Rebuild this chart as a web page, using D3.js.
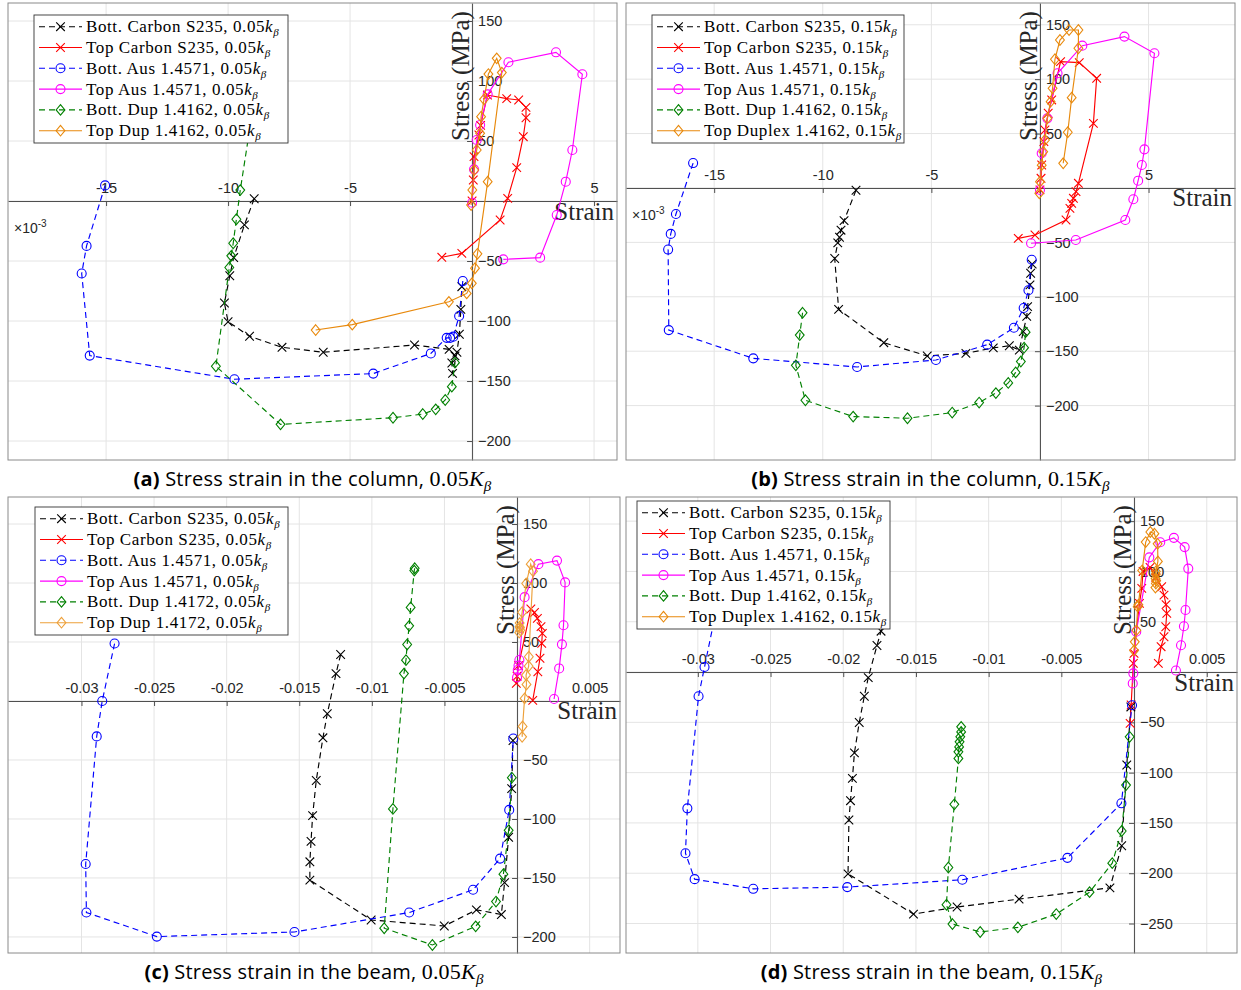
<!DOCTYPE html>
<html>
<head>
<meta charset="utf-8">
<script src="https://cdn.jsdelivr.net/npm/d3@7"></script>
<style>
  body { margin: 0; background: #fff; }
</style>
</head>
<body>
<svg id="chart" width="1241" height="990"></svg>
<script>
// strain in 1e-3, stress in MPa  [strain, stress]

// (a) column, 0.05
const aBottCarbon = [[-8.93,1.9],[-9.33,-19.9],[-9.77,-47.1],[-9.93,-62.3],[-10.15,-85],[-10.0,-100.6],[-9.12,-112.7],[-7.79,-121.9],[-6.10,-126],[-2.36,-120],[-0.94,-123.6],[-0.70,-129],[-0.83,-135],[-0.80,-143.6],[-0.62,-126],[-0.52,-111],[-0.46,-90.3],[-0.42,-71.4]];
const aTopCarbon = [[-1.24,-46.9],[-0.42,-43.6],[1.15,-15.8],[1.46,2.2],[1.83,27.8],[2.10,53.6],[2.21,69.4],[2.21,78],[1.91,84.2],[1.42,85.3],[0.63,88.3],[0.35,63],[0.28,55],[0.08,37],[0.05,17.5],[0,0]];
const aBottAus = [[-15.04,13],[-15.8,-37.4],[-16.0,-60.4],[-15.67,-128.8],[-9.74,-148.5],[-4.05,-143.8],[-1.69,-127],[-1.04,-114],[-0.9,-114],[-0.77,-113],[-0.53,-95.8],[-0.38,-66.7]];
const aTopAus = [[0,-1.4],[0.08,26.4],[0.19,50.8],[0.33,63.3],[0.64,88.9],[1.49,115.6],[3.44,123.9],[4.52,105.6],[4.11,42.5],[3.84,16.1],[3.47,-11.7],[2.79,-47.2],[1.28,-48.6]];
const aBottDup = [[-9.0,75],[-9.5,9.1],[-9.66,-15.2],[-9.79,-35.2],[-9.87,-45.7],[-9.95,-55.4],[-10.5,-137.7],[-7.85,-186.1],[-3.24,-180.6],[-2.02,-177.5],[-1.49,-173.6],[-1.1,-165.8],[-0.83,-154.7],[-0.70,-134.7]];
const aTopDup = [[-6.41,-107.5],[-4.91,-103],[-0.95,-84],[-0.22,-77],[-0.01,-68.6],[0.12,-56],[0.22,-44],[0.64,16.1],[1.22,107],[1.01,118.9],[0.67,105.8],[0.49,84.7],[0.37,70.3],[0.33,56.4],[0.19,42.5],[0.09,25.8],[0.01,9.2],[-0.04,-3.3]];

// (b) column, 0.15
const bBottCarbon = [[-8.47,-2.1],[-9.02,-30],[-9.16,-38.8],[-9.23,-45.3],[-9.31,-50.5],[-9.45,-64.8],[-9.27,-111.6],[-7.19,-142.2],[-5.19,-154.4],[-3.41,-152],[-2.15,-147],[-1.41,-145],[-0.95,-149],[-0.77,-132],[-0.61,-118],[-0.57,-109],[-0.46,-89],[-0.43,-78.4],[-0.36,-70]];
const bTopCarbon = [[0,-1.8],[0.05,8.9],[0.08,21.1],[0.18,42.6],[0.23,53.3],[0.38,68.7],[0.54,80.9],[0.95,116.1],[1.81,115.2],[2.61,100.8],[2.46,59.4],[1.77,4.3],[1.66,-3.4],[1.54,-9.5],[1.46,-14.1],[1.38,-18.7],[1.20,-29.4],[-0.23,-43.2],[-1.0,-46.3]];
const bBottAus = [[-15.97,22.9],[-16.76,-23.9],[-17.0,-42.2],[-17.12,-56.6],[-17.09,-130.6],[-13.2,-156.6],[-8.42,-164.5],[-4.79,-158.1],[-2.43,-144],[-1.2,-128.5],[-0.75,-110.3],[-0.53,-94],[-0.38,-66]];
const bTopAus = [[0,-1.8],[0.08,31.9],[0.34,64],[0.81,105.4],[1.95,130.8],[3.89,139.1],[5.27,123.8],[4.81,35.5],[4.69,21.1],[4.52,6.7],[4.30,-10.4],[3.93,-29.4],[1.65,-47.8],[-0.41,-50.8]];
const bBottDup = [[-10.93,-114.7],[-11.06,-135.2],[-11.24,-163],[-10.8,-195.1],[-8.6,-210.1],[-6.1,-211.6],[-4.04,-206.4],[-2.8,-197.2],[-2.03,-188.5],[-1.46,-179.2],[-1.12,-169.5],[-0.88,-159.5],[-0.73,-146.8],[-0.66,-132.5]];
const bTopDup = [[-0.03,-4.9],[0,5.8],[0.08,21],[0.15,33.4],[0.23,44.1],[0.34,64],[0.49,79.3],[0.58,91.6],[0.69,118.3],[0.92,136],[1.34,145.2],[1.77,145.2],[1.77,128.4],[1.46,83],[1.28,51.2],[1.07,22.7]];

// (c) beam, 0.05
const cBottCarbon = [[-12.15,39.4],[-12.47,23.2],[-13.07,-10.8],[-13.37,-31.2],[-13.83,-67.4],[-14.08,-97.2],[-14.19,-119],[-14.27,-136.3],[-14.27,-151.8],[-10.05,-185.6],[-5.01,-190.7],[-2.8,-177],[-1.08,-181],[-0.86,-154],[-0.58,-115.5],[-0.37,-74.3],[-0.28,-33.5]];
const cTopCarbon = [[-0.05,15],[0,21],[0.1,30],[0.95,78],[1.2,75],[1.4,70],[1.65,63],[1.74,57.3],[1.70,48.9],[1.58,36.2],[1.43,24.8],[1.08,0.5]];
const cBottAus = [[-27.72,48.7],[-28.57,0],[-28.95,-30],[-29.71,-138.2],[-29.66,-179.3],[-24.81,-199.7],[-15.33,-195.8],[-7.43,-179.3],[-3.03,-160],[-1.17,-133.6],[-0.54,-92.3],[-0.26,-31.8]];
const cTopAus = [[0.0,20],[0.05,26.3],[0.1,30],[0.16,34.7],[0.52,88],[1.47,116],[2.75,119],[3.31,100.5],[3.2,64.2],[3.09,48],[2.9,27.6],[2.55,1.7]];
const cBottDup = [[-7.05,112.5],[-7.08,110.5],[-7.33,79.3],[-7.43,63.7],[-7.57,47.9],[-7.65,34.6],[-7.79,23.2],[-8.55,-91.5],[-9.15,-192.6],[-5.83,-206.8],[-2.85,-191],[-1.45,-170],[-0.94,-146.8],[-0.58,-109.6],[-0.36,-65]];
const cTopDup = [[0.35,-30.4],[0.38,-21.6],[0.52,2.2],[0.65,14],[0.62,22],[0.8,29.5],[0.81,37.5],[1.1,110],[0.94,116],[0.63,99.6],[0.35,75.2],[0.2,62],[0.15,58],[0.18,66],[0.22,60],[0.17,63]];

// (d) beam, 0.15
const dBottCarbon = [[-17.15,52],[-17.4,40.6],[-17.68,26.4],[-18.28,-5.6],[-18.55,-24.1],[-18.9,-50.2],[-19.23,-80.3],[-19.37,-105.7],[-19.5,-127.9],[-19.61,-147.1],[-19.67,-200.6],[-15.17,-240.6],[-12.17,-233.6],[-7.91,-225.7],[-1.66,-214.5],[-0.85,-172.7],[-0.5,-92.4],[-0.22,-34.7]];
const dTopCarbon = [[-0.27,-51],[-0.2,-32.8],[-0.05,8.6],[0,18.6],[0.37,68.3],[0.53,83.2],[0.62,100],[1.1,104],[1.5,94],[1.9,84.8],[2.06,76.5],[2.2,67],[2.25,58.3],[2.18,45],[2.06,35.1],[1.86,25.2],[1.67,8.6]];
const dBottAus = [[-28.76,60],[-29.54,5],[-29.95,-24.1],[-30.72,-135.5],[-30.85,-180.1],[-30.22,-205.9],[-26.19,-215.5],[-19.72,-213.8],[-11.81,-206.5],[-4.58,-184.7],[-0.87,-130.5],[-0.14,-33]];
const dTopAus = [[-0.09,-11.3],[-0.05,-1.3],[0.15,40],[1.05,114],[1.8,129],[2.74,133.4],[3.48,124.2],[3.73,102.8],[3.54,61.7],[3.43,45.5],[3.23,26.6],[2.88,1.5]];
const dBottDup = [[-11.89,-54.5],[-11.89,-59.5],[-11.95,-64.4],[-12.0,-69.4],[-12.03,-74.4],[-12.08,-79.3],[-12.08,-85.9],[-12.36,-131.5],[-12.77,-194.3],[-12.9,-231.3],[-12.49,-250.5],[-10.58,-258.4],[-7.99,-253.8],[-5.35,-240.6],[-3.06,-218.8],[-1.5,-190],[-0.85,-158],[-0.55,-112.4],[-0.3,-64.4]];
const dTopDup = [[0,21.5],[0.05,30],[0.16,41.5],[0.25,65],[0.3,67],[0.56,101],[0.8,129.2],[1.12,139.2],[1.4,137.5],[1.62,127.5],[1.64,110],[1.5,100],[1.48,93],[1.5,88],[1.47,84],[1.52,91],[1.49,97]];

// legend names
const namesCol = ["Bott. Carbon S235, ", "Top Carbon S235, ", "Bott. Aus 1.4571, ", "Top Aus 1.4571, ", "Bott. Dup 1.4162, ", "Top Dup 1.4162, "];
const namesColB = ["Bott. Carbon S235, ", "Top Carbon S235, ", "Bott. Aus 1.4571, ", "Top Aus 1.4571, ", "Bott. Dup 1.4162, ", "Top Duplex 1.4162, "];
const namesBeamC = ["Bott. Carbon S235, ", "Top Carbon S235, ", "Bott. Aus 1.4571, ", "Top Aus 1.4571, ", "Bott. Dup 1.4172, ", "Top Dup 1.4172, "];

// ticks
const colXTicks = [-15, -10, -5, 5];
const colXGrid = [-15, -10, -5, 0, 5];
const beamXTicks = [-30, -25, -20, -15, -10, -5, 5];
const beamXGrid = [-30, -25, -20, -15, -10, -5, 0, 5];
const yTicks = [150, 100, 50, -50, -100, -150, -200];
const yTicksD = [150, 100, 50, -50, -100, -150, -200, -250];
const yGrid = [150, 100, 50, 0, -50, -100, -150, -200];
const yGridD = [150, 100, 50, 0, -50, -100, -150, -200, -250];

const SERIF = "'Liberation Serif', 'Times New Roman', serif";
const SANS = "'Liberation Sans', Arial, sans-serif";
const CAPFONT = "'Open Sans', 'Noto Sans', sans-serif";

const styleFor = (orange) => [
  { color: "#000000", dash: "6,4", marker: "x" },
  { color: "#ff0000", dash: null, marker: "x" },
  { color: "#0000ff", dash: "6,4", marker: "o" },
  { color: "#ff00ff", dash: null, marker: "o" },
  { color: "#008000", dash: "6,4", marker: "d" },
  { color: orange, dash: null, marker: "d" },
];

const svg = d3.select("#chart");
const defs = svg.append("defs");

function drawMarker(g, type, px, py, color) {
  if (type === "x") {
    g.append("path")
      .attr("d", `M${px - 4.3},${py - 4.3}L${px + 4.3},${py + 4.3}M${px - 4.3},${py + 4.3}L${px + 4.3},${py - 4.3}`)
      .attr("stroke", color).attr("stroke-width", 1.1).attr("fill", "none");
  } else if (type === "o") {
    g.append("circle").attr("cx", px).attr("cy", py).attr("r", 4.5)
      .attr("stroke", color).attr("stroke-width", 1.1).attr("fill", "none");
  } else {
    g.append("path")
      .attr("d", `M${px},${py - 5.3}L${px + 4.4},${py}L${px},${py + 5.3}L${px - 4.4},${py}Z`)
      .attr("stroke", color).attr("stroke-width", 1.1).attr("fill", "none");
  }
}

function drawPanel(p) {
  const x = d3.scaleLinear().domain(p.xDomain).range([p.left, p.right]);
  const y = d3.scaleLinear().domain(p.yDomain).range([p.bottom, p.top]);
  const g = svg.append("g");

  defs.append("clipPath").attr("id", "clip-" + p.id)
    .append("rect")
    .attr("x", p.left).attr("y", p.top)
    .attr("width", p.right - p.left).attr("height", p.bottom - p.top);

  // grid
  g.append("g").selectAll("line").data(p.xGrid).enter().append("line")
    .attr("x1", (d) => x(d)).attr("x2", (d) => x(d))
    .attr("y1", p.top).attr("y2", p.bottom)
    .attr("stroke", "#e4e4e4").attr("stroke-width", 1);
  g.append("g").selectAll("line").data(p.yGrid).enter().append("line")
    .attr("x1", p.left).attr("x2", p.right)
    .attr("y1", (d) => y(d)).attr("y2", (d) => y(d))
    .attr("stroke", "#e4e4e4").attr("stroke-width", 1);

  // axes through origin
  const xAxis = g.append("g")
    .attr("transform", `translate(0,${y(0)})`)
    .call(d3.axisBottom(x).tickValues(p.xTicks).tickSizeInner(5).tickSizeOuter(0).tickFormat(p.xFormat));
  xAxis.selectAll("text").attr("y", -8).attr("dy", "0");
  const yAxis = g.append("g")
    .attr("transform", `translate(${x(0)},0)`)
    .call(d3.axisRight(y).tickValues(p.yTicks).tickSizeInner(-5).tickSizeOuter(0).tickPadding(6));
  [xAxis, yAxis].forEach((a) => {
    a.selectAll("path, line").attr("stroke", "#4d4d4d");
    a.selectAll("text").attr("fill", "#262626").style("font-family", SANS).style("font-size", "14.5px");
  });

  // frame
  g.append("rect")
    .attr("x", p.left).attr("y", p.top)
    .attr("width", p.right - p.left).attr("height", p.bottom - p.top)
    .attr("fill", "none").attr("stroke", "#8a8a8a").attr("stroke-width", 1);

  // axis labels
  g.append("text")
    .attr("transform", `translate(${x(0) - 3},${p.top + 73}) rotate(-90)`)
    .attr("text-anchor", "middle")
    .style("font-family", SERIF).style("font-size", "25px").attr("fill", "#262626")
    .text("Stress (MPa)");
  g.append("text")
    .attr("x", p.right - 3).attr("y", y(0) + 18.5)
    .attr("text-anchor", "end")
    .style("font-family", SERIF).style("font-size", "25px").attr("fill", "#262626")
    .text("Strain");
  if (p.exponent) {
    const ex = g.append("text")
      .attr("x", p.left + 6).attr("y", y(0) + 32)
      .style("font-family", SANS).style("font-size", "14px").attr("fill", "#262626");
    ex.append("tspan").text("×10");
    ex.append("tspan").attr("dy", -6).style("font-size", "10px").text("-3");
  }

  // series
  const line = d3.line().x((d) => x(d[0])).y((d) => y(d[1]));
  const sg = g.append("g").attr("clip-path", `url(#clip-${p.id})`);
  p.series.forEach((s, i) => {
    const st = p.styles[i];
    sg.append("path")
      .attr("d", line(s))
      .attr("fill", "none")
      .attr("stroke", st.color)
      .attr("stroke-width", 1.15)
      .attr("stroke-dasharray", st.dash);
    s.forEach((d) => drawMarker(sg, st.marker, x(d[0]), y(d[1]), st.color));
  });

  // legend
  const lg = g.append("g");
  lg.append("rect")
    .attr("x", p.legend[0]).attr("y", p.legend[1])
    .attr("width", p.legend[2]).attr("height", 128)
    .attr("fill", "#fff").attr("stroke", "#333").attr("stroke-width", 0.9);
  p.names.forEach((name, i) => {
    const st = p.styles[i];
    const cy = p.legend[1] + 11.7 + i * 20.8;
    const lx = p.legend[0];
    lg.append("line")
      .attr("x1", lx + 5).attr("x2", lx + 48)
      .attr("y1", cy).attr("y2", cy)
      .attr("stroke", st.color).attr("stroke-width", 1.1)
      .attr("stroke-dasharray", st.dash);
    drawMarker(lg, st.marker, lx + 26.5, cy, st.color);
    const t = lg.append("text")
      .attr("x", lx + 52).attr("y", cy + 5.5)
      .style("font-family", SERIF).style("font-size", "17px")
      .style("letter-spacing", "0.6px").attr("fill", "#000");
    t.append("tspan").text(name + p.factor);
    t.append("tspan").style("font-style", "italic").text("k");
    t.append("tspan").attr("dy", 4).style("font-style", "italic").style("font-size", "11px").text("β");
  });

  // caption
  const cap = g.append("text")
    .attr("x", (p.left + p.right) / 2).attr("y", p.bottom + 26)
    .attr("text-anchor", "middle").attr("fill", "#000")
    .style("font-family", CAPFONT).style("font-size", "20px").style("letter-spacing", "0.2px");
  cap.append("tspan").style("font-weight", "bold").text(p.tag);
  cap.append("tspan").text(" " + p.caption + " ");
  cap.append("tspan").style("font-family", SERIF).style("font-size", "22px").text(p.factor);
  cap.append("tspan").style("font-family", SERIF).style("font-style", "italic").style("font-size", "22px").text("K");
  cap.append("tspan").attr("dy", 5).style("font-family", SERIF).style("font-style", "italic").style("font-size", "15px").text("β");
}

const fmtCol = (d) => String(d);
const fmtBeam = (d) => String(+(d / 1000).toFixed(3));

drawPanel({
  id: "a", left: 8, right: 617, top: 3, bottom: 460,
  xDomain: [-19.02, 5.94], yDomain: [-215.8, 165],
  xTicks: colXTicks, xGrid: colXGrid, yTicks: yTicks, yGrid: yGrid,
  xFormat: fmtCol, exponent: true,
  series: [aBottCarbon, aTopCarbon, aBottAus, aTopAus, aBottDup, aTopDup],
  styles: styleFor("#e8890c"), names: namesCol, factor: "0.05",
  legend: [34, 15, 254], tag: "(a)", caption: "Stress strain in the column,",
});
drawPanel({
  id: "b", left: 626, right: 1235, top: 3, bottom: 460,
  xDomain: [-19.06, 8.98], yDomain: [-250, 170],
  xTicks: colXTicks, xGrid: colXGrid, yTicks: yTicks, yGrid: yGrid,
  xFormat: fmtCol, exponent: true,
  series: [bBottCarbon, bTopCarbon, bBottAus, bTopAus, bBottDup, bTopDup],
  styles: styleFor("#e8890c"), names: namesColB, factor: "0.15",
  legend: [652, 15, 252], tag: "(b)", caption: "Stress strain in the column,",
});
drawPanel({
  id: "c", left: 8, right: 620, top: 497, bottom: 953,
  xDomain: [-35.06, 7.09], yDomain: [-213.6, 172.9],
  xTicks: beamXTicks, xGrid: beamXGrid, yTicks: yTicks, yGrid: yGrid,
  xFormat: fmtBeam, exponent: false,
  series: [cBottCarbon, cTopCarbon, cBottAus, cTopAus, cBottDup, cTopDup],
  styles: styleFor("#eda03a"), names: namesBeamC, factor: "0.05",
  legend: [35, 507, 253], tag: "(c)", caption: "Stress strain in the beam,",
});
drawPanel({
  id: "d", left: 626, right: 1237, top: 497, bottom: 953,
  xDomain: [-34.94, 7.08], yDomain: [-279.3, 174],
  xTicks: beamXTicks, xGrid: beamXGrid, yTicks: yTicksD, yGrid: yGridD,
  xFormat: fmtBeam, exponent: false,
  series: [dBottCarbon, dTopCarbon, dBottAus, dTopAus, dBottDup, dTopDup],
  styles: styleFor("#e8890c"), names: namesColB, factor: "0.15",
  legend: [637, 501, 253], tag: "(d)", caption: "Stress strain in the beam,",
});
</script>
</body>
</html>
